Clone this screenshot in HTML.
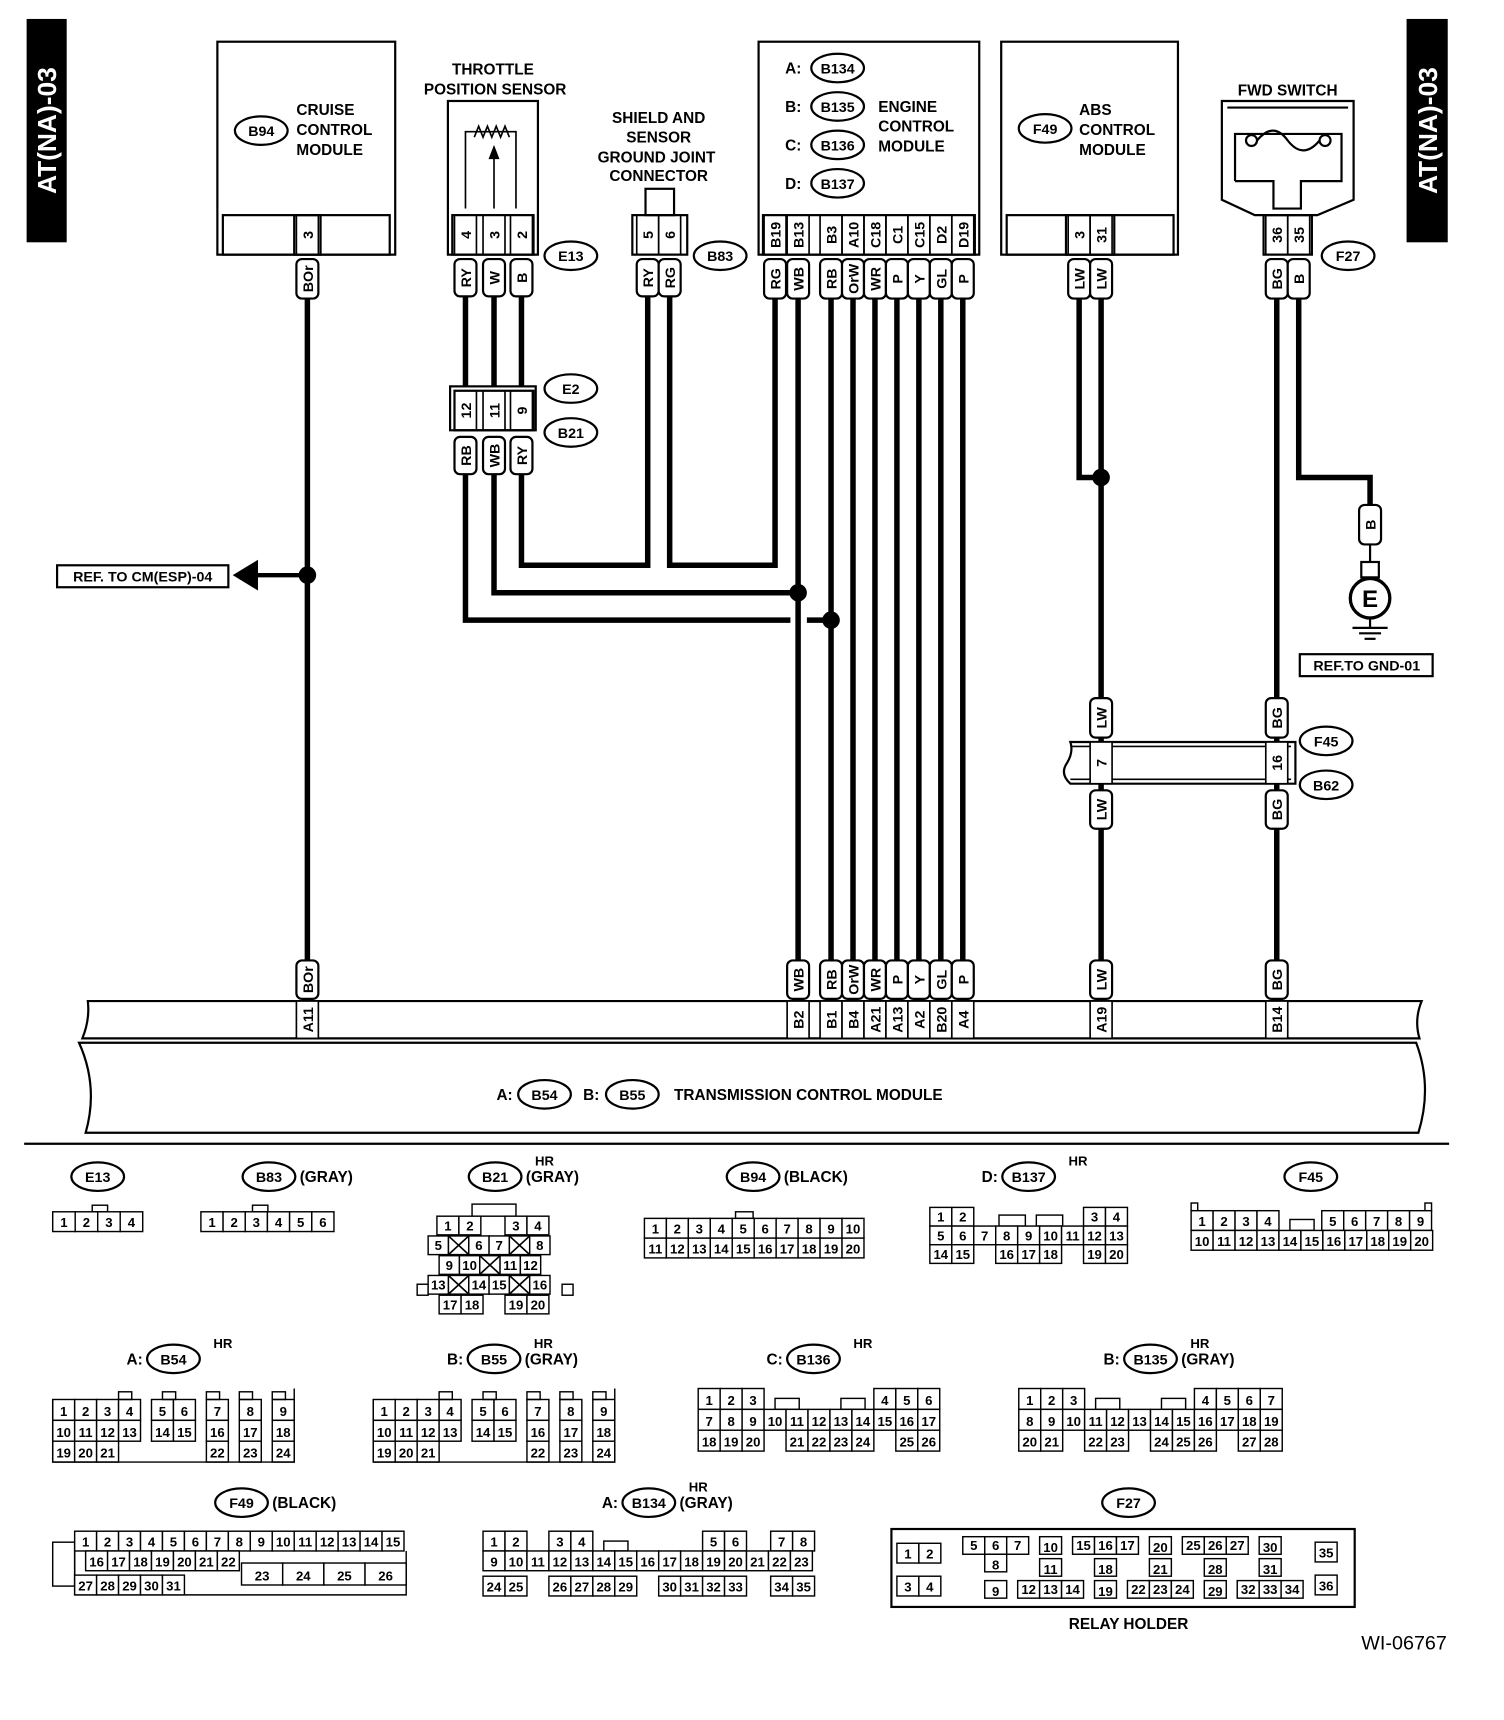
<!DOCTYPE html>
<html><head><meta charset="utf-8">
<style>
html,body{margin:0;padding:0;background:#fff;}
svg{display:block;}
text{font-family:"Liberation Sans",Arial,sans-serif;font-weight:bold;fill:#000;}
</style></head>
<body>
<svg id="s" xmlns="http://www.w3.org/2000/svg" width="1504" height="1720" viewBox="0 0 1370 1567" preserveAspectRatio="none">
<rect x="0" y="0" width="1370" height="1567" fill="#fff"/>
</svg>
<script>
const S=document.getElementById('s');const NS='http://www.w3.org/2000/svg';
function el(t,a,txt){const e=document.createElementNS(NS,t);for(const k in a)e.setAttribute(k,a[k]);if(txt!==undefined)e.textContent=txt;S.appendChild(e);return e;}
function R(x,y,w,h,sw,fill){return el('rect',{x,y,width:w,height:h,fill:fill||'none',stroke:'#000','stroke-width':sw||1.5});}
function L(pts,w){el('polyline',{points:pts.map(p=>p.join(',')).join(' '),fill:'none',stroke:'#000','stroke-width':w||4,'stroke-linejoin':'miter'});}
function T(x,y,s,sz,anchor,rot){const a={x,y,'font-size':sz||14,'text-anchor':anchor||'middle'};if(rot)a.transform=`rotate(-90 ${x} ${y})`;return el('text',a,s);}
function VT(cx,cy,s,sz){el('text',{x:cx,y:cy+5,'font-size':sz||13,'text-anchor':'middle',transform:`rotate(-90 ${cx} ${cy})`},s);}
function ell(cx,cy,s,rx){el('ellipse',{cx,cy,rx:rx||24,ry:13,fill:'#fff',stroke:'#000','stroke-width':2});T(cx,cy+5,s,13);}
function lab(x,y1,y2,s){el('rect',{x:x-10,y:y1,width:20,height:y2-y1,rx:5,fill:'#fff',stroke:'#000','stroke-width':2});VT(x,(y1+y2)/2,s,13);}
function dot(x,y){el('circle',{cx:x,cy:y,r:8,fill:'#000'});}
function strip(x1,x2,y1,y2,pins){R(x1,y1,x2-x1,y2-y1,2);pins.forEach(p=>{R(p[0]-10,y1,20,y2-y1,1.5);VT(p[0],(y1+y2)/2,p[1],13);});}

// side tags
R(25,18,35,202,0,'#000');el('text',{x:42,y:128,'font-size':24,'text-anchor':'middle',style:'fill:#fff',transform:'rotate(-90 42 119)'},'AT(NA)-03');
R(1282,18,36,202,0,'#000');el('text',{x:1300,y:128,'font-size':24,'text-anchor':'middle',style:'fill:#fff',transform:'rotate(-90 1300 119)'},'AT(NA)-03');

// cruise control
R(198,38,162,194,2);R(203,196,152,36,2);strip(268,292,196,232,[[280,'3']]);
ell(238,119,'B94');T(270,105,'CRUISE',14,'start');T(270,123,'CONTROL',14,'start');T(270,141,'MODULE',14,'start');
L([[280,272],[280,875]],5);lab(280,236,272,'BOr');lab(280,875,910,'BOr');
dot(280,524);L([[280,524],[235,524]],4);el('polygon',{points:'212,524 235,510 235,538',fill:'#000'});
R(52,515,156,20,2);T(130,530,'REF. TO CM(ESP)-04',13);

// throttle
T(449,68,'THROTTLE',14);T(451,86,'POSITION SENSOR',14);
R(408,92,82,140,2);strip(412,486,196,232,[[424,'4'],[450,'3'],[475,'2']]);
L([[424,190],[424,120],[470,120],[470,190]],1.5);
L([[450,190],[450,140]],1.5);el('polygon',{points:'450,132 445,145 455,145',fill:'#000'});
L([[432,125],[436,115],[440,125],[444,115],[448,125],[452,115],[456,125],[460,115],[464,125]],1.5);
ell(520,233,'E13');
lab(424,236,270,'RY');lab(450,236,270,'W');lab(475,236,270,'B');
L([[424,270],[424,352]],5);L([[450,270],[450,352]],5);L([[475,270],[475,352]],5);
R(410,352,78,40,2);strip(414,486,356,392,[[424,'12'],[450,'11'],[475,'9']]);
ell(520,354,'E2');ell(520,394,'B21');
lab(424,398,432,'RB');lab(450,398,432,'WB');lab(475,398,432,'RY');
L([[475,432],[475,515],[590,515],[590,270]],5);
L([[450,432],[450,540],[727,540]],5);
L([[424,432],[424,565],[720,565]],5);L([[735,565],[757,565]],5);

// B83
T(600,112,'SHIELD AND',14);T(600,130,'SENSOR',14);T(598,148,'GROUND JOINT',14);T(600,165,'CONNECTOR',14);
R(588,172,26,24,2);strip(576,626,196,232,[[590,'5'],[610,'6']]);
lab(590,236,270,'RY');lab(610,236,270,'RG');ell(656,233,'B83');
L([[610,270],[610,515],[706,515],[706,270]],5);

// ECM
R(691,38,201,194,2);
const ep=[[706,'B19','RG','',''],[727,'B13','WB','WB','B2'],[757,'B3','RB','RB','B1'],[777,'A10','OrW','OrW','B4'],[797,'C18','WR','WR','A21'],[817,'C1','P','P','A13'],[837,'C15','Y','Y','A2'],[857,'D2','GL','GL','B20'],[877,'D19','P','P','A4']];
strip(695,888,196,232,ep.map(p=>[p[0],p[1]]));
T(730,67,'A:',14,'end');T(730,102,'B:',14,'end');T(730,137,'C:',14,'end');T(730,172,'D:',14,'end');
ell(763,62,'B134');ell(763,97,'B135');ell(763,132,'B136');ell(763,167,'B137');
T(800,102,'ENGINE',14,'start');T(800,120,'CONTROL',14,'start');T(800,138,'MODULE',14,'start');
ep.forEach(p=>{lab(p[0],236,272,p[2]);if(p[3]){L([[p[0],272],[p[0],875]],5);lab(p[0],875,910,p[3]);}});
dot(727,540);dot(757,565);

// ABS
R(912,38,161,194,2);R(917,196,152,36,2);strip(971,1015,196,232,[[983,'3'],[1003,'31']]);
ell(952,117,'F49');T(983,105,'ABS',14,'start');T(983,123,'CONTROL',14,'start');T(983,141,'MODULE',14,'start');
lab(983,236,272,'LW');lab(1003,236,272,'LW');
L([[983,272],[983,435],[1003,435]],5);L([[1003,272],[1003,875]],5);dot(1003,435);

// FWD switch
T(1173,87,'FWD SWITCH',14);
el('polygon',{points:'1113,92 1233,92 1233,182 1200,196 1143,196 1113,182',fill:'#fff',stroke:'#000','stroke-width':2});
L([[1118,98],[1228,98]],2);
L([[1125,165],[1125,122],[1222,122],[1222,165],[1185,165],[1185,190],[1160,190],[1160,165],[1125,165]],2);
el('circle',{cx:1140,cy:128,r:5,fill:'#fff',stroke:'#000','stroke-width':2});el('circle',{cx:1207,cy:128,r:5,fill:'#fff',stroke:'#000','stroke-width':2});
el('path',{d:'M1145,128 Q1160,110 1173,128 Q1187,146 1202,128',fill:'none',stroke:'#000','stroke-width':2});
strip(1151,1195,196,232,[[1163,'36'],[1183,'35']]);ell(1228,233,'F27');
lab(1163,236,272,'BG');lab(1183,236,272,'B');
L([[1183,272],[1183,435],[1248,435],[1248,460]],5);lab(1248,460,496,'B');
L([[1248,496],[1248,512]],2);R(1240,512,16,14,2,'#fff');
el('circle',{cx:1248,cy:545,r:18,fill:'#fff',stroke:'#000','stroke-width':3});T(1248,553,'E',22);
L([[1248,563],[1248,572]],2);L([[1232,572],[1264,572]],2);L([[1238,577],[1258,577]],2);L([[1243,582],[1253,582]],2);
R(1184,596,121,20,2);T(1245,611,'REF.TO GND-01',13);
L([[1163,272],[1163,875]],5);

// F45/B62
lab(1003,636,672,'LW');lab(1163,636,672,'BG');
el('path',{d:'M975,676 L1180,676 L1180,714 L975,714 Q965,705 972,695 Q978,685 975,676 Z',fill:'#fff',stroke:'#000','stroke-width':2});
L([[975,680],[1176,680]],1.5);L([[975,710],[1176,710]],1.5);
R(993,676,20,38,1.5,'#fff');VT(1003,695,'7',13);R(1153,676,20,38,1.5,'#fff');VT(1163,695,'16',13);
ell(1208,675,'F45');ell(1208,715,'B62');
lab(1003,720,755,'LW');lab(1163,720,755,'BG');
lab(1003,875,910,'LW');lab(1163,875,910,'BG');

// TCM
el('path',{d:'M80,912 L1295,912 Q1288,929 1293,946 L75,946 Q82,929 80,912 Z',fill:'#fff',stroke:'#000','stroke-width':2});
[[280,'A11']].concat(ep.filter(p=>p[4]).map(p=>[p[0],p[4]])).concat([[1003,'A19'],[1163,'B14']]).forEach(p=>{R(p[0]-10,912,20,34,1.5,'#fff');VT(p[0],929,p[1],13);});
el('path',{d:'M72,950 L1290,950 Q1305,990 1292,1032 L78,1032 Q90,990 72,950 Z',fill:'#fff',stroke:'#000','stroke-width':2});
T(467,1002,'A:',14,'end');ell(496,997,'B54');T(546,1002,'B:',14,'end');ell(576,997,'B55');T(614,1002,'TRANSMISSION CONTROL MODULE',14,'start');
L([[22,1042],[1320,1042]],2);

// connector face helpers
function cells(x,y,w,h,labs){labs.forEach((s,i)=>{R(x+i*w,y,w,h,1.3,'#fff');if(s!=='X')T(x+i*w+w/2,y+h-4,s,12);else{L([[x+i*w,y],[x+i*w+w,y+h]],1.5);L([[x+i*w+w,y],[x+i*w,y+h]],1.5);}});}
function hdr(cx,cy,name,pre,post,hr){if(pre)T(cx-28,cy+5,pre,14,'end');ell(cx,cy,name);if(post)T(cx+28,cy+5,post,14,'start');if(hr)T(cx+45,cy-10,'HR',12);}
const n=(a,b)=>{const r=[];for(let i=a;i<=b;i++)r.push(''+i);return r;};

hdr(89,1072,'E13');R(84,1098,14,6,1.3);cells(48,1104,20.5,18,n(1,4));
hdr(245,1072,'B83','','(GRAY)');R(230,1098,14,6,1.3);cells(183,1104,20.2,18,n(1,6));
hdr(451,1072,'B21','','(GRAY)',true);R(430,1097,40,11,1.3);
cells(398,1108,20,17,['1','2']);cells(460,1108,20,17,['3','4']);
cells(390,1126,18.5,17,['5','X','6','7','X','8']);
cells(400,1144,18.5,17,['9','10','X','11','12']);
R(380,1170,10,10,1.3);R(512,1170,10,10,1.3);
cells(390,1162,18.5,17,['13','X','14','15','X','16']);
cells(400,1180,20,17,['17','18']);cells(460,1180,20,17,['19','20']);
hdr(686,1072,'B94','','(BLACK)');R(670,1104,16,6,1.3);cells(587,1110,20,18,n(1,10));cells(587,1128,20,18,n(11,20));
hdr(937,1072,'B137','D:','',true);
cells(847,1100,20,17,['1','2']);cells(987,1100,20,17,['3','4']);R(910,1107,24,10,1.3);R(944,1107,24,10,1.3);
cells(847,1117,20,17,['5','6','7']);cells(907,1117,20,17,n(8,13));
cells(847,1134,20,17,['14','15']);cells(907,1134,20,17,n(16,18));cells(987,1134,20,17,['19','20']);
hdr(1194,1072,'F45');R(1085,1096,6,7,1.3);R(1298,1096,6,7,1.3);
cells(1085,1103,20,18,n(1,4));R(1175,1111,22,10,1.3);cells(1204,1103,20,18,n(5,9));cells(1085,1121,20,18,n(10,20));

function b5x(x0,name,post){
  hdr(x0+110,1238,name,name=='B54'?'A:':'B:',post,true);
  const c=[0,20,40,60,90,110,140,170,200];
  [['1','2','3','4','5','6','7','8','9'],['10','11','12','13','14','15','16','17','18']].forEach((r,ri)=>r.forEach((s,i)=>cells(x0+c[i],1275+ri*19,20,19,[s])));
  cells(x0,1313,20,19,['19','20','21']);cells(x0+140,1313,20,19,['22']);cells(x0+170,1313,20,19,['23']);cells(x0+200,1313,20,19,['24']);
  [60,100,140,170,200].forEach(d=>R(x0+d-10+10,1268,12,7,1.3));
  L([[x0,1275],[x0,1332],[x0+220,1332],[x0+220,1265]],1.3);
}
b5x(48,'B54','');b5x(340,'B55','(GRAY)');

hdr(741,1238,'B136','C:','',true);
cells(636,1265,20,19,n(1,3));cells(796,1265,20,19,n(4,6));R(706,1274,22,10,1.3);R(766,1274,22,10,1.3);
cells(636,1284,20,19,n(7,17));cells(636,1303,20,19,n(18,20));cells(716,1303,20,19,n(21,24));cells(816,1303,20,19,['25','26']);
hdr(1048,1238,'B135','B:','(GRAY)',true);
cells(928,1265,20,19,n(1,3));cells(1088,1265,20,19,n(4,7));R(998,1274,22,10,1.3);R(1058,1274,22,10,1.3);
cells(928,1284,20,19,n(8,19));cells(928,1303,20,19,['20','21']);cells(988,1303,20,19,['22','23']);cells(1048,1303,20,19,n(24,26));cells(1128,1303,20,19,['27','28']);

hdr(220,1369,'F49','','(BLACK)');
R(48,1405,20,40,1.3);cells(68,1395,20,18,n(1,15));
L([[68,1413],[68,1453],[370,1453],[370,1413]],1.3);
cells(78,1413,20,18,n(16,22));cells(220,1424,37.5,20,['23','24','25','26']);cells(68,1435,20,18,n(27,31));
hdr(591,1369,'B134','A:','(GRAY)',true);
cells(440,1395,20,18,['1','2']);cells(500,1395,20,18,['3','4']);R(550,1404,22,9,1.3);cells(640,1395,20,18,['5','6']);cells(702,1395,20,18,['7','8']);
cells(440,1413,20,18,n(9,23));
cells(440,1436,20,18,['24','25']);cells(500,1436,20,18,n(26,29));cells(600,1436,20,18,n(30,33));cells(702,1436,20,18,['34','35']);

// F27 relay holder
ell(1028,1369,'F27');R(812,1393,422,71,2);
cells(817,1406,20,18,['1','2']);cells(817,1436,20,18,['3','4']);
cells(877,1400,20,16,n(5,7));R(897,1416,20,16,1.3);T(907,1430,'8',12);R(897,1440,20,16,1.3);T(907,1454,'9',12);
R(947,1400,20,16,1.3);T(957,1414,'10',12);R(947,1420,20,16,1.3);T(957,1434,'11',12);
cells(927,1440,20,16,n(12,14));
cells(977,1400,20,16,n(15,17));R(997,1420,20,16,1.3);T(1007,1434,'18',12);R(997,1440,20,16,1.3);T(1007,1454,'19',12);
R(1047,1400,20,16,1.3);T(1057,1414,'20',12);R(1047,1420,20,16,1.3);T(1057,1434,'21',12);cells(1027,1440,20,16,n(22,24));
cells(1077,1400,20,16,n(25,27));R(1097,1420,20,16,1.3);T(1107,1434,'28',12);R(1097,1440,20,16,1.3);T(1107,1454,'29',12);
R(1147,1400,20,16,1.3);T(1157,1414,'30',12);R(1147,1420,20,16,1.3);T(1157,1434,'31',12);cells(1127,1440,20,16,n(32,34));
R(1198,1405,20,18,1.3);T(1208,1419,'35',12);R(1198,1435,20,18,1.3);T(1208,1449,'36',12);
T(1028,1484,'RELAY HOLDER',14);
el('text',{x:1318,y:1503,'font-size':18,'text-anchor':'end',style:'font-weight:normal'},'WI-06767');
</script>
</body></html>
